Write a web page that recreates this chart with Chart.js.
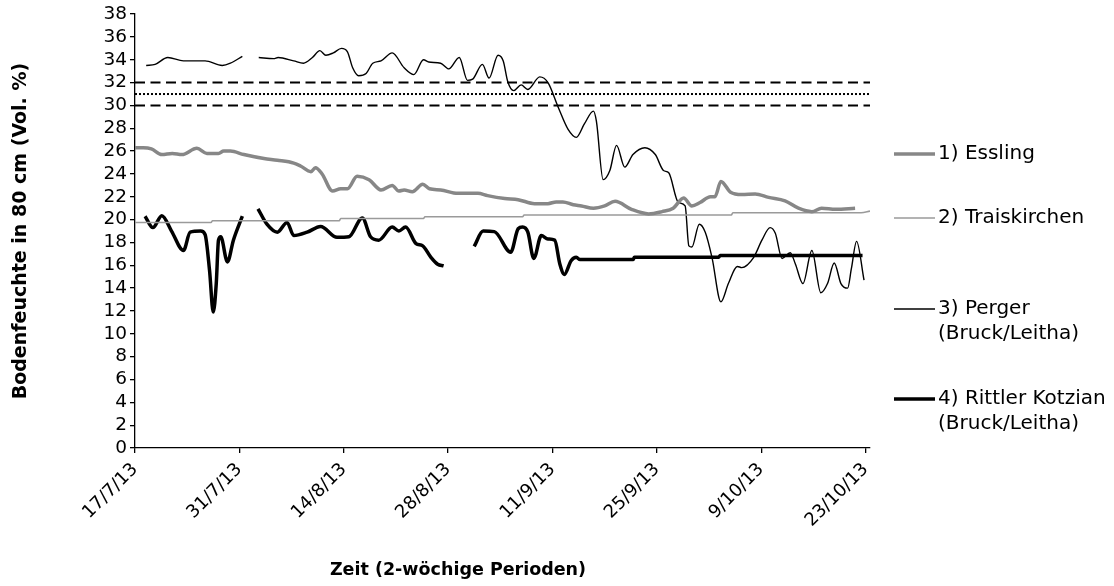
<!DOCTYPE html>
<html>
<head>
<meta charset="utf-8">
<script src="https://cdn.jsdelivr.net/npm/chart.js@4.4.0/dist/chart.umd.min.js"></script>
<style>
  html, body { margin: 0; padding: 0; background: #fff; }
</style>
</head>
<body>
<canvas id="chart" width="1114" height="586"></canvas>
<script>
// x = days since 17/7/13, ticks every two weeks
const tickDays = [0, 14, 28, 42, 56, 70, 84, 98];
const tickLabels = ['17/7/13', '31/7/13', '14/8/13', '28/8/13', '11/9/13', '25/9/13', '9/10/13', '23/10/13'];

const seriesNames = ['1) Essling', '2) Traiskirchen', '3) Perger\n(Bruck/Leitha)', '4) Rittler Kotzian\n(Bruck/Leitha)'];
const xTitle = 'Zeit (2-wöchige Perioden)';
const yTitle = 'Bodenfeuchte in 80 cm (Vol. %)';

const esslingDays = [0, 1.1, 2.2, 3.6, 5.0, 6.3, 8.3, 9.65, 11.2, 11.9, 12.8, 14.6, 17.3, 19.1, 21.3, 22.2, 23.6, 24.2, 25.1, 26.5, 27.6, 28.5, 29.8, 31.4, 33.0, 34.5, 35.4, 36.1, 37.2, 38.6, 39.5, 41.0, 43.3, 46.0, 47.3, 49.6, 51.4, 53.6, 55.4, 56.5, 57.4, 58.8, 59.9, 61.5, 63.0, 64.4, 66.6, 68.9, 70.7, 72.2, 73.6, 74.7, 75.8, 77.2, 77.8, 78.6, 79.9, 81.4, 83.2, 85.0, 87.2, 89.0, 90.8, 92.1, 94.0, 96.6];
const esslingValues = [26.3, 26.3, 26.2, 25.7, 25.8, 25.7, 26.25, 25.8, 25.8, 26.0, 26.0, 25.7, 25.35, 25.2, 24.95, 24.7, 24.2, 24.55, 24.0, 22.5, 22.7, 22.7, 23.8, 23.5, 22.6, 23.0, 22.5, 22.6, 22.45, 23.1, 22.7, 22.6, 22.3, 22.3, 22.1, 21.85, 21.75, 21.4, 21.4, 21.55, 21.55, 21.3, 21.2, 21.0, 21.2, 21.6, 20.9, 20.5, 20.7, 21.0, 21.9, 21.2, 21.5, 22.0, 22.0, 23.35, 22.4, 22.2, 22.25, 21.95, 21.65, 21.0, 20.7, 21.0, 20.9, 21.0];

const traisDays = [0, 10.2, 10.4, 27.4, 27.6, 38.7, 38.9, 52.0, 52.2, 80.0, 80.2, 97.4, 98.6];
const traisValues = [19.75, 19.75, 19.9, 19.9, 20.1, 20.1, 20.25, 20.25, 20.4, 20.4, 20.6, 20.6, 20.75];

const pergerDays = [1.5, 2.7, 4.4, 6.5, 9.4, 11.7, 12.8, 14.4, 15.5, 16.6, 18.6, 19.2, 21.3, 22.6, 23.8, 24.8, 25.6, 26.6, 27.7, 28.5, 29.2, 30.0, 31.0, 31.9, 33.0, 34.5, 36.1, 37.4, 38.7, 39.4, 41.0, 42.1, 43.5, 44.6, 45.3, 46.6, 47.5, 48.7, 49.4, 50.0, 50.8, 51.8, 52.7, 54.3, 55.4, 56.8, 58.1, 59.2, 60.3, 61.5, 61.9, 62.8, 63.7, 64.6, 65.7, 66.8, 68.4, 69.8, 70.9, 71.6, 72.9, 73.8, 74.3, 74.7, 75.7, 76.5, 77.4, 78.6, 79.6, 80.8, 81.4, 83.0, 84.1, 85.2, 85.9, 86.8, 87.9, 88.6, 89.6, 90.8, 92.0, 92.9, 93.8, 94.7, 95.6, 96.1, 96.8, 97.8];
const pergerValues = [33.5, 33.6, 34.2, 33.9, 33.9, 33.5, 33.7, 34.3, null, 34.2, 34.1, 34.2, 33.9, 33.7, 34.2, 34.8, 34.4, 34.6, 35.0, 34.7, 33.3, 32.6, 32.8, 33.7, 33.9, 34.6, 33.3, 32.7, 34.0, 33.8, 33.7, 33.2, 34.2, 32.2, 32.3, 33.6, 32.4, 34.4, 33.9, 32.1, 31.3, 31.8, 31.4, 32.5, 32.0, 29.8, 27.9, 27.2, 28.4, 29.5, 28.6, 23.5, 24.3, 26.5, 24.6, 25.7, 26.3, 25.7, 24.3, 24.1, 21.5, 21.2, 17.7, 17.6, 19.6, 18.9, 16.7, 12.8, 14.4, 15.9, 15.8, 16.7, 18.2, 19.3, 18.8, 16.6, 17.1, 16.1, 14.4, 17.3, 13.6, 14.4, 16.2, 14.4, 14.0, 15.7, 18.1, 14.7];

const rittlerDays = [1.35, 2.4, 3.6, 4.9, 6.5, 7.4, 8.8, 9.4, 10.0, 10.5, 10.9, 11.2, 11.5, 12.4, 13.2, 14.4, 15.4, 16.5, 17.7, 19.1, 20.4, 21.3, 23.1, 24.9, 27.1, 28.7, 30.5, 31.6, 32.7, 34.5, 35.4, 36.3, 37.7, 38.6, 39.7, 40.6, 41.4, 43.5, 45.5, 46.7, 48.2, 50.4, 51.4, 52.0, 52.7, 53.5, 54.5, 55.4, 56.3, 57.0, 57.6, 58.5, 59.2, 59.7, 66.8, 67.0, 78.3, 78.5, 97.6];
const rittlerValues = [20.3, 19.3, 20.35, 19.0, 17.3, 18.9, 19.0, 18.7, 15.55, 11.9, 14.4, 18.2, 18.5, 16.3, 18.2, 20.3, null, 20.95, 19.6, 18.9, 19.75, 18.6, 18.9, 19.4, 18.45, 18.5, 20.15, 18.5, 18.2, 19.35, 19.0, 19.35, 17.9, 17.7, 16.7, 16.1, 15.95, null, 17.65, 19.0, 18.95, 17.15, 19.2, 19.35, 18.9, 16.6, 18.6, 18.3, 18.2, 16.1, 15.2, 16.4, 16.7, 16.5, 16.5, 16.7, 16.7, 16.85, 16.85];

// reference band
const bandUpper = 32;
const bandMiddle = 31;
const bandLower = 30;
const xMax = 98.6;

function toPoints(days, values) {
    return days.map((d, i) => ({x: d, y: values[i]}));
}
function flat(v) {
    return [{x: 0, y: v}, {x: xMax, y: v}];
}

Chart.defaults.font.family = "'DejaVu Sans', sans-serif";
Chart.defaults.color = '#000';

const seriesLine = {pointRadius: 0, fill: false, cubicInterpolationMode: 'monotone', spanGaps: false};

const datasets = [
    {label: seriesNames[0], data: toPoints(esslingDays, esslingValues), borderColor: '#878787', borderWidth: 3.5, ...seriesLine},
    {label: seriesNames[1], data: toPoints(traisDays, traisValues), borderColor: '#9a9a9a', borderWidth: 1.6, ...seriesLine},
    {label: seriesNames[2], data: toPoints(pergerDays, pergerValues), borderColor: '#000', borderWidth: 1.4, ...seriesLine},
    {label: seriesNames[3], data: toPoints(rittlerDays, rittlerValues), borderColor: '#000', borderWidth: 3.5, ...seriesLine},
    {label: 'upper', data: flat(bandUpper), borderColor: '#000', borderWidth: 2, borderDash: [10, 5.5], pointRadius: 0},
    {label: 'middle', data: flat(bandMiddle), borderColor: '#000', borderWidth: 2, borderDash: [2, 2], pointRadius: 0},
    {label: 'lower', data: flat(bandLower), borderColor: '#000', borderWidth: 2, borderDash: [10, 5.5], pointRadius: 0},
];

// legend on the right + x title, drawn by hand (uneven spacing, two-line labels, off-centre title)
const sideLegend = {
    id: 'sideLegend',
    afterDraw(chart) {
        const ctx = chart.ctx;
        const rows = [154, 218, 309, 399];
        ctx.save();
        ctx.font = "20px 'DejaVu Sans'";
        ctx.fillStyle = '#000';
        ctx.textBaseline = 'middle';
        ctx.textAlign = 'left';
        for (let i = 0; i < 4; i++) {
            const ds = chart.data.datasets[i];
            const y = rows[i];
            ctx.beginPath();
            ctx.strokeStyle = ds.borderColor;
            ctx.lineWidth = ds.borderWidth;
            ctx.moveTo(894, y);
            ctx.lineTo(935, y);
            ctx.stroke();
            ds.label.split('\n').forEach((t, j) => ctx.fillText(t, 938, y + j * 25));
        }
        ctx.font = "bold 17.5px 'DejaVu Sans'";
        ctx.textAlign = 'center';
        ctx.fillText(xTitle, 458, 570);
        ctx.restore();
    }
};

const axisGrid = {display: true, drawOnChartArea: false, drawTicks: true, tickLength: 5, color: '#000', lineWidth: 1.3};

new Chart(document.getElementById('chart'), {
    type: 'line',
    data: {datasets},
    options: {
        responsive: false,
        animation: false,
        devicePixelRatio: 1,
        layout: {padding: {top: 12, right: 244, bottom: 0, left: 0}},
        plugins: {legend: {display: false}, tooltip: {enabled: false}},
        scales: {
            x: {
                type: 'linear',
                min: 0,
                max: xMax,
                afterBuildTicks: s => { s.ticks = tickDays.map(v => ({value: v})); },
                ticks: {
                    autoSkip: false,
                    minRotation: 45,
                    maxRotation: 45,
                    padding: 6,
                    font: {size: 18},
                    callback: (v, i) => tickLabels[i]
                },
                grid: axisGrid,
                border: {display: true, color: '#000', width: 1.3},
                afterFit: s => { s.height = 138; }
            },
            y: {
                min: 0,
                max: 38,
                ticks: {stepSize: 2, autoSkip: false, padding: 3, font: {size: 18.5}},
                grid: axisGrid,
                border: {display: true, color: '#000', width: 1.3},
                title: {display: true, text: yTitle, font: {size: 19, weight: 'bold'}, padding: {top: 10, bottom: 0}},
                afterFit: s => { s.width = 135; }
            }
        }
    },
    plugins: [sideLegend]
});
</script>
</body>
</html>
